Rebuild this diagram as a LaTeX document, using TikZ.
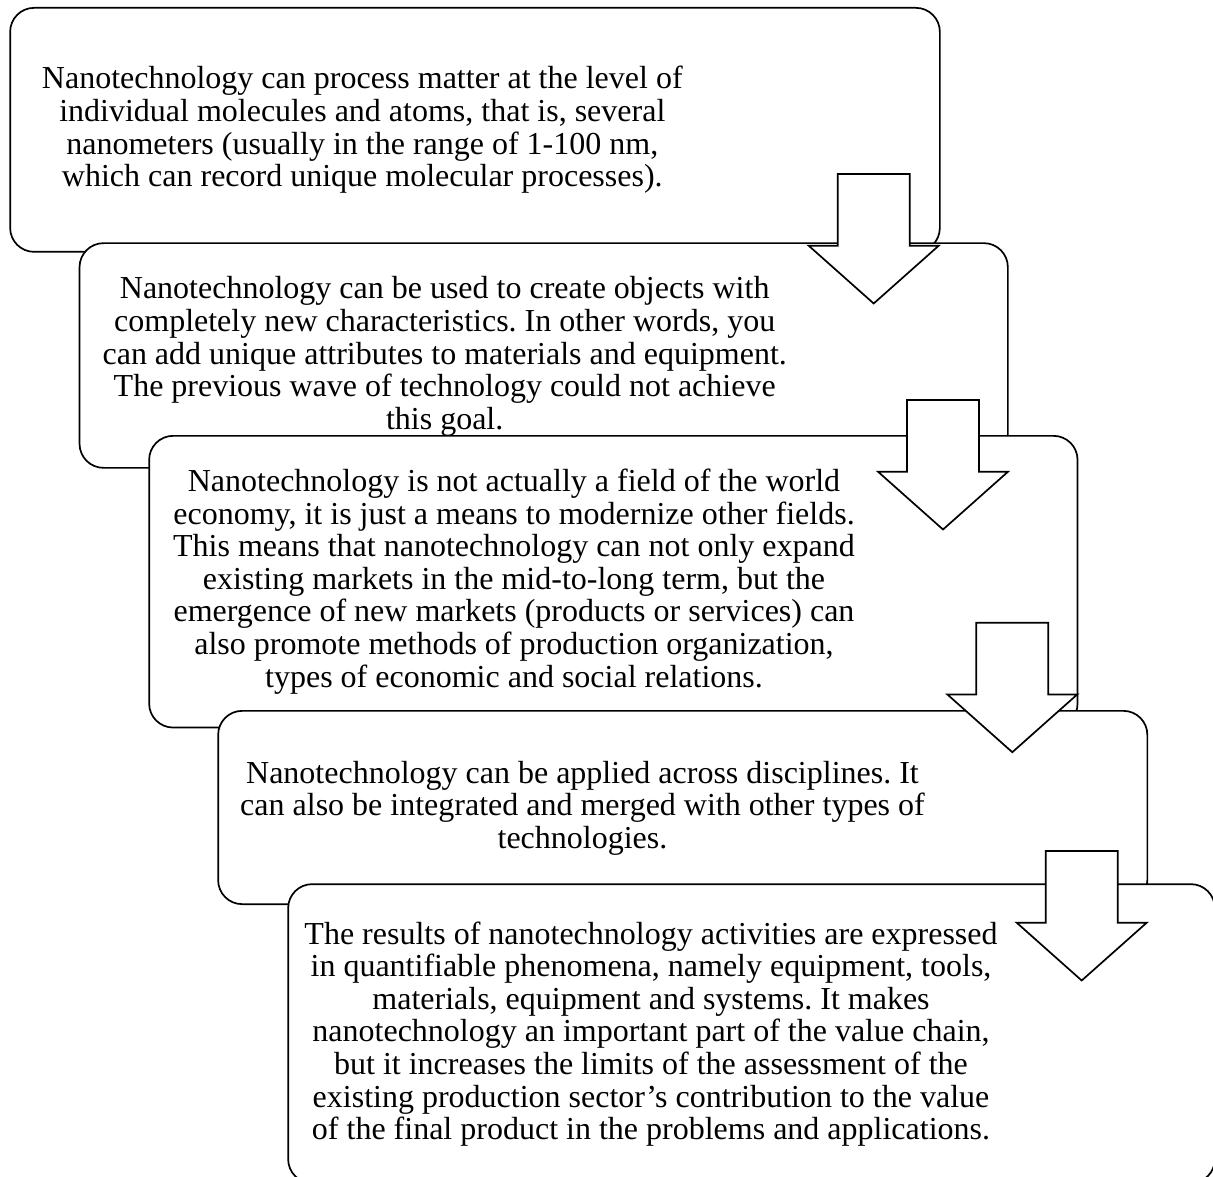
\documentclass[tikz,border=0pt]{standalone}
\usepackage{fontspec}
\setmainfont{Liberation Serif}
\frenchspacing
\begin{document}
\begin{tikzpicture}[x=1pt,y=-1pt,
  box/.style={draw, line width=1.7pt, rounded corners=24pt, fill=white, anchor=north west, inner sep=0pt},
  txt/.style={font=\fontsize{32}{32.6}\selectfont, align=center, inner sep=0pt},
  barrow/.style={draw, line width=1.7pt, fill=white, line join=miter},
  pics/downarrow/.style={code={
    \draw[barrow] (-36,0) -- (36,0) -- (36,71.7) -- (65,71.7) -- (0,129.5)
      -- (-65,71.7) -- (-36,71.7) -- cycle;
  }}]
\useasboundingbox (0,0) rectangle (1213,1177);
\clip (0,0) rectangle (1213,1177);
% boxes
\node[box, minimum width=929.7pt, minimum height=244pt] (b1) at (9.3,7) {};
\node[txt] (t1) at (362.3,130) {Nanotechnology can process matter at the level of\\
individual molecules and atoms, that is, several\\
nanometers (usually in the range of 1-100 nm,\\
which can record unique molecular processes).};
\node[box, minimum width=928.3pt, minimum height=224.7pt] (b2) at (78.7,242.3) {};
\node[txt] (t2) at (444.7,356.5) {Nanotechnology can be used to create objects with\\
completely new characteristics. In other words, you\\
can add unique attributes to materials and equipment.\\
The previous wave of technology could not achieve\\
this goal.};
\node[box, minimum width=928.4pt, minimum height=291.7pt] (b3) at (148.3,435) {};
\node[txt] (t3) at (514,581.5) {Nanotechnology is not actually a field of the world\\
economy, it is just a means to modernize other fields.\\
This means that nanotechnology can not only expand\\
existing markets in the mid-to-long term, but the\\
emergence of new markets (products or services) can\\
also promote methods of production organization,\\
types of economic and social relations.};
\node[box, minimum width=929.2pt, minimum height=193.3pt] (b4) at (217.3,710) {};
\node[txt] (t4) at (582.5,808) {Nanotechnology can be applied across disciplines. It\\
can also be integrated and merged with other types of\\
technologies.};
\node[box, minimum width=926.7pt, minimum height=299pt] (b5) at (287.3,883.3) {};
\node[txt] (t5) at (651,1034) {The results of nanotechnology activities are expressed\\
in quantifiable phenomena, namely equipment, tools,\\
materials, equipment and systems. It makes\\
nanotechnology an important part of the value chain,\\
but it increases the limits of the assessment of the\\
existing production sector’s contribution to the value\\
of the final product in the problems and applications.};
% arrows
\coordinate (a1) at (873.7,174);
\coordinate (a2) at (943,400);
\coordinate (a3) at (1012.3,622.7);
\coordinate (a4) at (1081.7,851);
\pic at (a1) {downarrow};
\pic at (a2) {downarrow};
\pic at (a3) {downarrow};
\pic at (a4) {downarrow};
\end{tikzpicture}
\end{document}
